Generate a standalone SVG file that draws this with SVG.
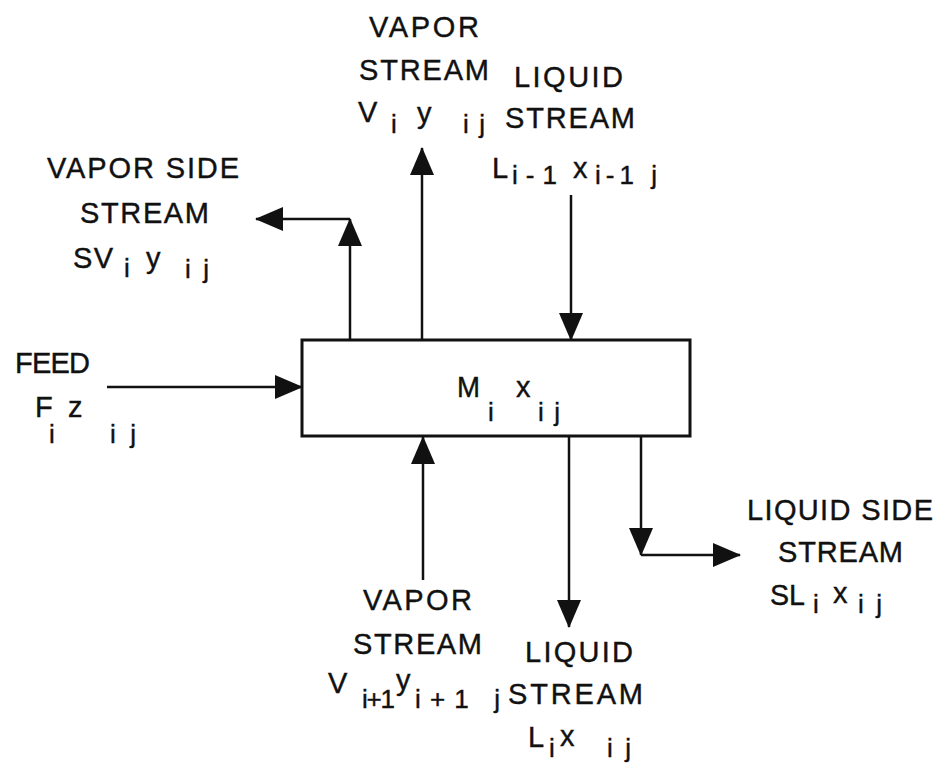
<svg xmlns="http://www.w3.org/2000/svg" width="940" height="765" viewBox="0 0 940 765">
<defs>
<style>
.t{font-family:"Liberation Sans",Arial,sans-serif;font-size:29px;fill:#111;stroke:#111;stroke-width:0.4;}
.s{font-family:"Liberation Sans",Arial,sans-serif;font-size:26px;fill:#111;stroke:#111;stroke-width:0.4;}
.c{stroke:#111;stroke-width:2.5;fill:none;}
</style>
<marker id="ah" markerUnits="userSpaceOnUse" markerWidth="28" markerHeight="24" refX="27" refY="12" orient="auto">
<path d="M0,0 L28,12 L0,24 z" fill="#111"/>
</marker>
</defs>
<rect width="940" height="765" fill="#fff"/>

<g id="connectors">
<line class="c" x1="350" y1="340" x2="350" y2="219" marker-end="url(#ah)"/>
<line class="c" x1="350" y1="219" x2="256" y2="219" marker-end="url(#ah)"/>
<line class="c" x1="422" y1="340" x2="422" y2="148" marker-end="url(#ah)"/>
<line class="c" x1="571" y1="195" x2="571" y2="340" marker-end="url(#ah)"/>
<line class="c" x1="107" y1="387" x2="302" y2="387" marker-end="url(#ah)"/>
<line class="c" x1="423" y1="580" x2="423" y2="437" marker-end="url(#ah)"/>
<line class="c" x1="569" y1="436" x2="569" y2="627" marker-end="url(#ah)"/>
<line class="c" x1="641" y1="436" x2="641" y2="555" marker-end="url(#ah)"/>
<line class="c" x1="641" y1="555" x2="740" y2="555" marker-end="url(#ah)"/>
</g>

<g id="stage">
<rect x="302" y="340" width="388" height="96" fill="none" stroke="#111" stroke-width="3"/>
<text class="t" x="457" y="397" textLength="23" lengthAdjust="spacingAndGlyphs">M</text>
<text class="s" x="488" y="421">i</text>
<text class="t" x="516" y="397">x</text>
<text class="s" x="538" y="421" textLength="22" lengthAdjust="spacing">ij</text>
</g>

<g id="vapor-out">
<text class="t" x="369" y="37" textLength="110" lengthAdjust="spacing">VAPOR</text>
<text class="t" x="359" y="80" textLength="130" lengthAdjust="spacing">STREAM</text>
<text class="t" x="358" y="122">V</text>
<text class="s" x="391" y="133">i</text>
<text class="t" x="417" y="123">y</text>
<text class="s" x="463" y="133" textLength="22" lengthAdjust="spacing">ij</text>
</g>

<g id="liquid-in">
<text class="t" x="514" y="87" textLength="109" lengthAdjust="spacing">LIQUID</text>
<text class="t" x="505" y="128" textLength="130" lengthAdjust="spacing">STREAM</text>
<text class="t" x="492" y="178">L</text>
<text class="s" x="512" y="184" textLength="45" lengthAdjust="spacing">i-1</text>
<text class="t" x="573" y="178">x</text>
<text class="s" x="595" y="184" textLength="62" lengthAdjust="spacing">i-1 j</text>
</g>

<g id="vapor-side">
<text class="t" x="47" y="178" textLength="192" lengthAdjust="spacing">VAPOR SIDE</text>
<text class="t" x="80" y="223" textLength="129" lengthAdjust="spacing">STREAM</text>
<text class="t" x="73" y="268" textLength="40" lengthAdjust="spacing">SV</text>
<text class="s" x="124" y="277">i</text>
<text class="t" x="146" y="268">y</text>
<text class="s" x="185" y="278" textLength="24" lengthAdjust="spacing">ij</text>
</g>

<g id="feed">
<text class="t" x="15" y="373" textLength="75" lengthAdjust="spacing">FEED</text>
<text class="t" x="35" y="417">F</text>
<text class="t" x="68" y="417">z</text>
<text class="s" x="49" y="443">i</text>
<text class="s" x="110" y="443" textLength="26" lengthAdjust="spacing">ij</text>
</g>

<g id="vapor-in">
<text class="t" x="363" y="610" textLength="109" lengthAdjust="spacing">VAPOR</text>
<text class="t" x="353" y="654" textLength="129" lengthAdjust="spacing">STREAM</text>
<text class="t" x="328" y="693">V</text>
<text class="s" x="362" y="708" textLength="33" lengthAdjust="spacing">i+1</text>
<text class="t" x="396" y="690">y</text>
<text class="s" x="415" y="708" textLength="85" lengthAdjust="spacing">i+1 j</text>
</g>

<g id="liquid-out">
<text class="t" x="525" y="662" textLength="108" lengthAdjust="spacing">LIQUID</text>
<text class="t" x="508" y="704" textLength="135" lengthAdjust="spacing">STREAM</text>
<text class="t" x="528" y="747">L</text>
<text class="s" x="549" y="757">i</text>
<text class="t" x="560" y="746">x</text>
<text class="s" x="607" y="757" textLength="24" lengthAdjust="spacing">ij</text>
</g>

<g id="liquid-side">
<text class="t" x="770" y="605" textLength="35" lengthAdjust="spacingAndGlyphs">SL</text>
<text class="t" x="747" y="520" textLength="186" lengthAdjust="spacing">LIQUID SIDE</text>
<text class="t" x="778" y="562" textLength="125" lengthAdjust="spacing">STREAM</text>
<text class="s" x="813" y="613">i</text>
<text class="t" x="833" y="603">x</text>
<text class="s" x="858" y="613" textLength="24" lengthAdjust="spacing">ij</text>
</g>
</svg>
